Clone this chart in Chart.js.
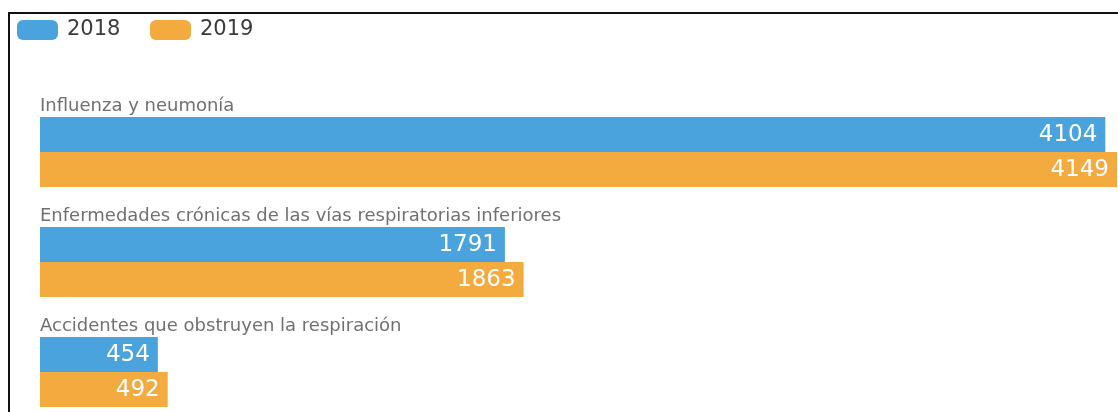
<!DOCTYPE html>
<html>
<head>
<meta charset="utf-8">
<script src="https://cdn.jsdelivr.net/npm/chart.js@4/dist/chart.umd.min.js"></script>
<style>
  html, body { margin: 0; padding: 0; background: #fff; overflow: hidden; }
  #wrap { position: relative; width: 1118px; height: 412px; overflow: hidden; }
  #marco { position: absolute; left: 8px; top: 12px; width: 1200px; height: 500px;
           border-top: 2px solid #111; border-left: 2px solid #111; }
  #grafico { position: absolute; left: 0; top: 0; }
</style>
</head>
<body>
<div id="wrap">
  <div id="marco"></div>
  <canvas id="grafico" width="1118" height="440"></canvas>
</div>
<script>
const causas = [
  'Influenza y neumonía',
  'Enfermedades crónicas de las vías respiratorias inferiores',
  'Accidentes que obstruyen la respiración',
];
const anios = ['2018', '2019'];
const muertes2018 = [4104, 1791, 454];
const muertes2019 = [4149, 1863, 492];

const azul = '#4aa3dc';
const naranja = '#f3aa3f';

// etiquetas de categoria encima de cada grupo y valores dentro de las barras
const etiquetas = {
  id: 'etiquetas',
  afterDatasetsDraw(chart) {
    const ctx = chart.ctx;
    ctx.save();
    chart.data.datasets.forEach((ds, i) => {
      const meta = chart.getDatasetMeta(i);
      meta.data.forEach((bar, j) => {
        ctx.font = '23px "DejaVu Sans"';
        ctx.fillStyle = '#fff';
        ctx.textAlign = 'right';
        ctx.textBaseline = 'middle';
        ctx.fillText(ds.data[j], bar.x - 8, bar.y + 1);
      });
    });
    const primera = chart.getDatasetMeta(0);
    primera.data.forEach((bar, j) => {
      ctx.font = '18px "DejaVu Sans"';
      ctx.fillStyle = '#707070';
      ctx.textAlign = 'left';
      ctx.textBaseline = 'alphabetic';
      ctx.fillText(causas[j], chart.chartArea.left, bar.y - bar.height / 2 - 6);
    });
    // leyenda
    let x = 17;
    chart.data.datasets.forEach((ds) => {
      ctx.fillStyle = ds.backgroundColor;
      ctx.beginPath();
      ctx.roundRect(x, 20, 41, 20, 6);
      ctx.fill();
      ctx.font = '21px "DejaVu Sans"';
      ctx.fillStyle = '#3a3a3a';
      ctx.textAlign = 'left';
      ctx.textBaseline = 'middle';
      ctx.fillText(ds.label, x + 50, 30);
      x += 133;
    });
    ctx.restore();
  },
};

new Chart(document.getElementById('grafico'), {
  type: 'bar',
  data: {
    labels: causas,
    datasets: [
      { label: anios[0], data: muertes2018, backgroundColor: azul },
      { label: anios[1], data: muertes2019, backgroundColor: naranja },
    ],
  },
  options: {
    indexAxis: 'y',
    responsive: false,
    animation: false,
    devicePixelRatio: 1,
    layout: { padding: { left: 40, right: 1, top: 97, bottom: 13 } },
    categoryPercentage: 70 / 110,
    barPercentage: 1,
    scales: {
      x: { min: 0, max: 4149, display: false },
      y: { display: false },
    },
    plugins: {
      legend: { display: false },
      tooltip: { enabled: false },
    },
  },
  plugins: [etiquetas],
});
</script>
</body>
</html>
